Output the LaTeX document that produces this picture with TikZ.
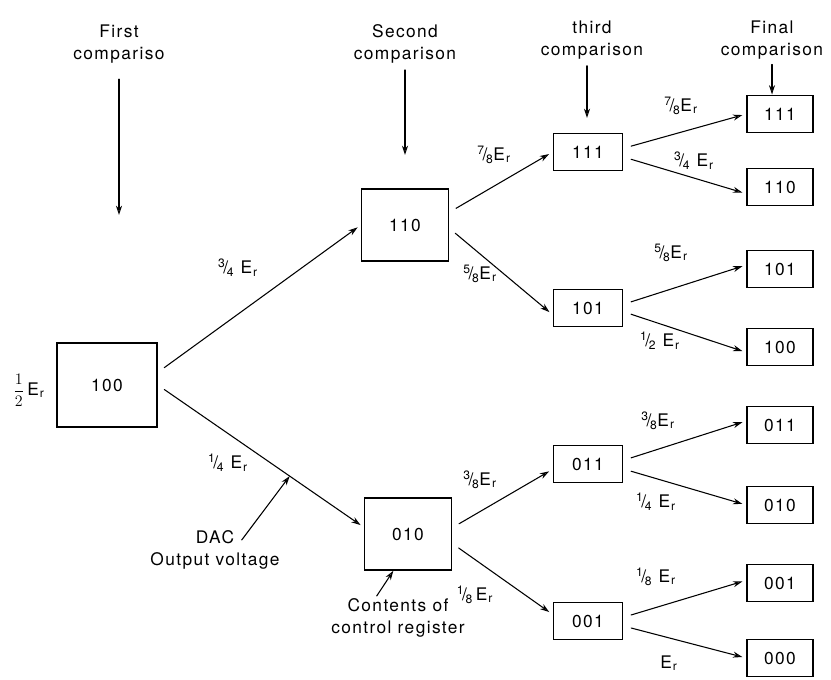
\documentclass[tikz,border=0pt]{standalone}
\usepackage{fontspec}
\setmainfont{TeX Gyre Heros}[LetterSpace=8]
\usetikzlibrary{arrows.meta}
\newcommand\sfr[2]{\textsuperscript{#1}\kern-.12em/\kern-.08em\textsubscript{#2}}
\newcommand\Er{E\kern.06em\textsubscript{r}}

\begin{document}
\begin{tikzpicture}[x=0.75pt,y=-0.75pt,line cap=round,
    >={Stealth[length=7pt,width=4.5pt,fill=gray!35]},
    every node/.style={font=\fontsize{13}{16}\selectfont},
    title/.style={align=center,inner sep=0pt},
    lab/.style={inner sep=1pt},
    regbox/.style={draw,line width=1.2pt,inner sep=0pt},
    bigbox/.style={regbox,minimum width=75pt,minimum height=63pt},
    midbox/.style={regbox,minimum width=65pt,minimum height=54pt},
    thirdbox/.style={regbox,minimum width=52pt,minimum height=28pt},
    finalbox/.style={regbox,minimum width=49.5pt,minimum height=28pt},
    conn/.style={->,line width=0.8pt,shorten <=6pt,shorten >=3pt}]
\useasboundingbox (0,0) rectangle (831,679);
% ---------- column titles ----------
\node[title] (tfirst) at (119,44){First\\compariso};
\node[title] (tsecond) at (405,44){Second\\comparison};
\node[title] (tthird) at (592,40){third\\comparison};
\node[title] (tfinal) at (772,40){Final\\comparison};
\coordinate (pfirst) at (119,215);
\coordinate (psecond) at (405,155);
\coordinate (pthird) at (587,118);
% ---------- registers ----------
\node[bigbox] (b100) at (107,385){100};
\node[lab] (lhalf) at (29,390){$\displaystyle\frac{1}{2}$\,\Er};
\node[midbox] (s110) at (405,225){110};
\node[midbox] (s010) at (408,534){010};
\node[thirdbox] (t111) at (588,152){111};
\node[thirdbox] (t101) at (588,308){101};
\node[thirdbox] (t011) at (588,464){011};
\node[thirdbox] (t001) at (588,621){001};
\foreach \code/\yy in {111/114,110/187,101/269,100/347,011/425,010/505,001/583,000/658}
  \node[finalbox] (f\code) at (780,\yy){\code};
% ---------- comparison arrows ----------
\draw[->,line width=0.8pt,shorten <=12pt] (tfirst.south) -- (pfirst);
\draw[->,line width=0.8pt,shorten <=5pt] (tsecond.south) -- (psecond);
\draw[->,line width=0.8pt,shorten <=5pt] (tthird.south -| pthird) -- (pthird);
\draw[->,line width=0.8pt,shorten <=4pt] (tfinal.south) -- (tfinal.south |- f111.north);
% ---------- first -> second ----------
\draw[conn] (b100.14) -- (s110.west);
\draw[conn] (b100.east) -- coordinate[pos=0.64] (dacpt) ([yshift=5pt]s010.west);
\node[lab] (l34) at (238,268){\sfr{3}{4} \Er};
\node[lab] (l14) at (228,463){\sfr{1}{4} \Er};
% ---------- second -> third ----------
\draw[conn] (s110.16) -- (t111.west);
\draw[conn] (s110.-4) -- ([yshift=-5pt]t101.west);
\draw[conn] (s010.8) -- ([yshift=-4pt]t011.west);
\draw[conn] (s010.-12) -- ([yshift=5pt]t001.west);
\node[lab] (l78a) at (494,155){\sfr{7}{8}\Er};
\node[lab] (l58a) at (480,274){\sfr{5}{8}\Er};
\node[lab] (l38a) at (480,480){\sfr{3}{8}\Er};
\node[lab] (l18a) at (475,595){\sfr{1}{8}\,\Er};
% ---------- third -> final ----------
\draw[conn] (t111.6) -- (f111.west);
\draw[conn] (t111.-8) -- ([yshift=-5pt]f110.west);
\draw[conn] (t101.6) -- ([yshift=3pt]f101.west);
\draw[conn] (t101.-6) -- ([yshift=-4pt]f100.west);
\draw[conn] (t011.6) -- ([yshift=3pt]f011.west);
\draw[conn] (t011.-8) -- (f010.west);
\draw[conn] (t001.6) -- ([yshift=2pt]f001.west);
\draw[conn] (t001.-8) -- (f000.west);
\node[lab] (l78b) at (681,106){\sfr{7}{8}\Er};
\node[lab] (l34b) at (694,161){\sfr{3}{4} \Er};
\node[lab] (l58b) at (671,253){\sfr{5}{8}\Er};
\node[lab] (l12b) at (660,341){\sfr{1}{2} \Er};
\node[lab] (l38b) at (658,421){\sfr{3}{8}\Er};
\node[lab] (l14b) at (656,502){\sfr{1}{4} \Er};
\node[lab] (l18b) at (656,577){\sfr{1}{8} \Er};
\node[lab] (lerb) at (669,663){\Er};
% ---------- annotations ----------
\node[title] (dac) at (215,550){DAC\\Output voltage};
\draw[->,line width=0.8pt] ([xshift=20pt,yshift=-7pt]dac.north) -- (dacpt);
\node[title] (ctr) at (398,618){Contents of\\control register};
\draw[->,line width=0.8pt] ([xshift=-16pt,yshift=2pt]ctr.north) -- ([xshift=-11pt]s010.south);
\end{tikzpicture}
\end{document}
